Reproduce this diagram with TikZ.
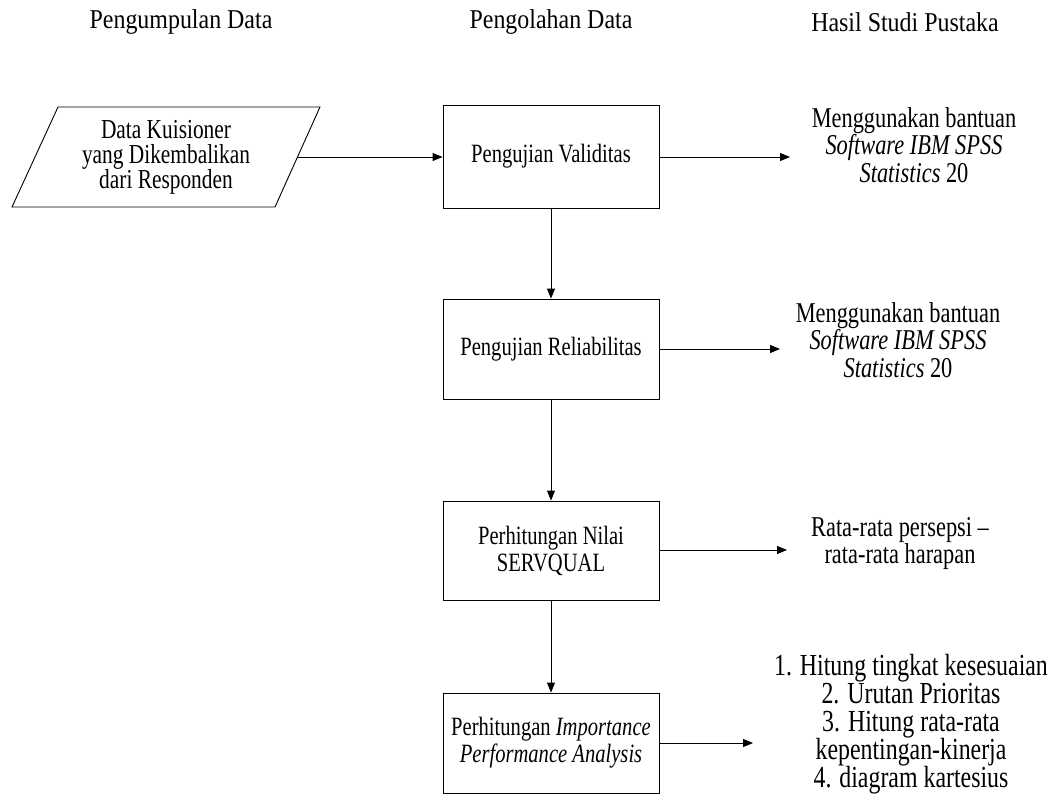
\documentclass[tikz,border=0pt]{standalone}
\usepackage{fontspec}
\setmainfont{Liberation Serif}[FakeStretch=0.78]
\newfontfamily\headfont{Liberation Serif}[FakeStretch=0.88]
\usetikzlibrary{arrows.meta}
\begin{document}
\begin{tikzpicture}[x=1pt,y=-1pt,
  proc/.style={draw, line width=0.9pt, minimum width=216pt, inner sep=0pt, align=center, font=\fontsize{26.4}{27}\selectfont},
  head/.style={font=\headfont\fontsize{27.2}{28}\selectfont},
  res/.style={align=center, inner sep=0pt, font=\fontsize{28.7}{27.5}\selectfont},
  conn/.style={line width=0.9pt, -{Triangle[length=10pt,width=8pt]}},
  pline/.style={draw, line width=0.9pt, line join=miter}
]
\useasboundingbox (0,0) rectangle (1051,805);

% headers
\node[head] (h1) at (181,22) {Pengumpulan Data};
\node[head] (h2) at (551,22) {Pengolahan Data};
\node[head] (h3) at (905,22) {Hasil Studi Pustaka};

% input parallelogram
\path[pline] (58,107) -- (320,107) -- (275,207) -- (12,207) -- cycle;
\node[align=center, inner sep=0pt, font=\fontsize{27.4}{25}\selectfont] (in) at (166,157.5) {Data Kuisioner\\yang Dikembalikan\\dari Responden};
\coordinate (inR) at (297.5,157);

% process boxes
\node[proc, minimum height=103pt] (b1) at (551,156.5) {Pengujian Validitas};
\node[proc, minimum height=100pt] (b2) at (551,349) {Pengujian Reliabilitas};
\node[proc, minimum height=99pt] (b3) at (551,550.5) {Perhitungan Nilai\\SERVQUAL};
\node[proc, minimum height=100pt] (b4) at (551,743) {Perhitungan \textit{Importance}\\\textit{Performance Analysis}};

% results
\node[res] (r1) at (914,145) {Menggunakan bantuan\\\textit{Software IBM SPSS}\\\textit{Statistics} 20};
\node[res] (r2) at (898,340) {Menggunakan bantuan\\\textit{Software IBM SPSS}\\\textit{Statistics} 20};
\node[res] (r3) at (900,543.5) {Rata-rata persepsi --\\rata-rata harapan};
\node[res, font=\fontsize{30.6}{28}\selectfont] (r4) at (911,724.5) {1. Hitung tingkat kesesuaian\\2. Urutan Prioritas\\3. Hitung rata-rata\\kepentingan-kinerja\\4. diagram kartesius};

\coordinate (a1) at (790,157);
\coordinate (a2) at (780,349);
\coordinate (a3) at (787,550);
\coordinate (a4) at (753,743);

% connectors
\draw[conn] (inR) -- (inR -| b1.west);
\draw[conn] (b1) -- (b2);
\draw[conn] (b2) -- (b3);
\draw[conn] (b3) -- (b4);
\draw[conn] (b1.east |- a1) -- (a1);
\draw[conn] (b2.east |- a2) -- (a2);
\draw[conn] (b3.east |- a3) -- (a3);
\draw[conn] (b4.east |- a4) -- (a4);
\end{tikzpicture}
\end{document}
